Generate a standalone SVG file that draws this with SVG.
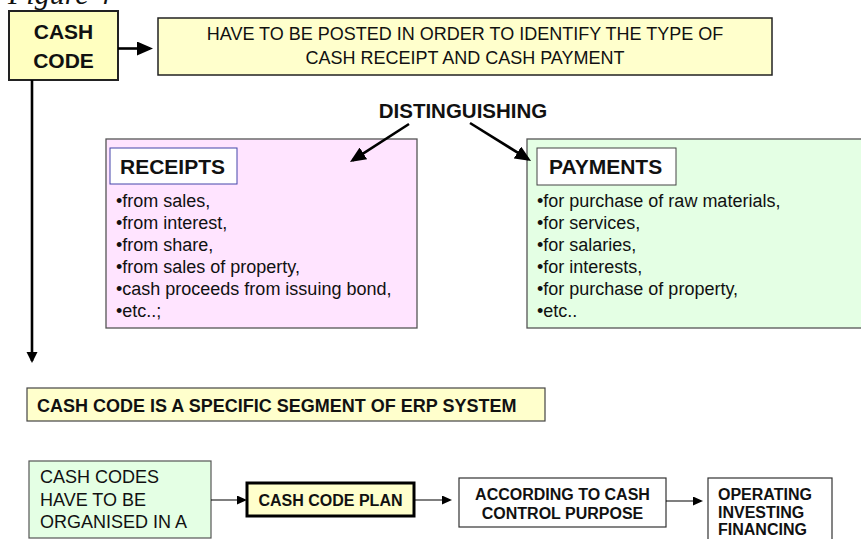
<svg xmlns="http://www.w3.org/2000/svg" width="861" height="539" viewBox="0 0 861 539">
  <style>
    text { font-family: "Liberation Sans", Arial, sans-serif; fill: #111; }
    .b { font-weight: bold; }
    .r18 { font-size: 18px; }
    .b16 { font-size: 16px; font-weight: bold; }
    .b18 { font-size: 18px; font-weight: bold; }
    .b21 { font-size: 21px; font-weight: bold; }
    .mid { text-anchor: middle; }
    .yellow { fill: #FFFFCC; stroke: #222; stroke-width: 1.5; }
    .thick { stroke: #000; stroke-width: 2.6; fill: none; }
    .thin { stroke: #000; stroke-width: 1.2; fill: none; }
    .title { font-family: "Liberation Serif", "Times New Roman", serif; font-style: italic; font-size: 30px; }
  </style>
  <defs>
    <marker id="headBig" markerUnits="userSpaceOnUse" markerWidth="18" markerHeight="14" refX="13" refY="7" orient="auto">
      <path d="M0,0 L16,7 L0,14 Z" fill="#000"/>
    </marker>
    <marker id="headMid" markerUnits="userSpaceOnUse" markerWidth="13" markerHeight="12" refX="9" refY="5.5" orient="auto">
      <path d="M0,0 L11,5.5 L0,11 Z" fill="#000"/>
    </marker>
    <marker id="headSmall" markerUnits="userSpaceOnUse" markerWidth="11" markerHeight="9" refX="8" refY="4.5" orient="auto">
      <path d="M0,0 L10,4.5 L0,9 Z" fill="#000"/>
    </marker>
  </defs>

  <rect width="861" height="539" fill="#FFFFFF"/>

  <text class="title" x="8" y="4">Figure 4</text>

  <g id="cash-code">
    <rect x="9" y="11" width="109" height="69" fill="#FFFFC0" stroke="#222" stroke-width="2"/>
    <text class="b21 mid" x="63.5" y="39">CASH</text>
    <text class="b21 mid" x="63.5" y="68">CODE</text>
  </g>

  <g id="posting-note">
    <rect class="yellow" x="158" y="18" width="614" height="57"/>
    <text class="r18 mid" x="465" y="40">HAVE TO BE POSTED IN ORDER TO IDENTIFY THE TYPE OF</text>
    <text class="r18 mid" x="465" y="64">CASH RECEIPT AND CASH PAYMENT</text>
  </g>

  <g id="distinguishing">
    <text class="b mid" x="463" y="118" font-size="20.5">DISTINGUISHING</text>
  </g>

  <g id="receipts">
    <rect x="106" y="139" width="311" height="189" fill="#FFE4FF" stroke="#555" stroke-width="1.3"/>
    <rect x="110" y="148" width="127" height="36" fill="#FFFFFF" stroke="#4444AA" stroke-width="1"/>
    <text class="b21" x="120" y="173.5">RECEIPTS</text>
    <text class="r18" x="116" y="207">•from sales,</text>
    <text class="r18" x="116" y="229">•from interest,</text>
    <text class="r18" x="116" y="251">•from share,</text>
    <text class="r18" x="116" y="273">•from sales of property,</text>
    <text class="r18" x="116" y="295">•cash proceeds from issuing bond,</text>
    <text class="r18" x="116" y="317">•etc..;</text>
  </g>

  <g id="payments">
    <rect x="527" y="139" width="340" height="189" fill="#E4FFE4" stroke="#555" stroke-width="1.3"/>
    <rect x="537" y="148" width="139" height="37" fill="#FFFFFF" stroke="#444" stroke-width="1"/>
    <text class="b21" x="549" y="174">PAYMENTS</text>
    <text class="r18" x="537" y="207">•for purchase of raw materials,</text>
    <text class="r18" x="537" y="229">•for services,</text>
    <text class="r18" x="537" y="251">•for salaries,</text>
    <text class="r18" x="537" y="273">•for interests,</text>
    <text class="r18" x="537" y="295">•for purchase of property,</text>
    <text class="r18" x="537" y="317">•etc..</text>
  </g>

  <g id="erp-segment">
    <rect x="27" y="388" width="518" height="33" fill="#FFFFCC" stroke="#444" stroke-width="1.2"/>
    <text class="b18" x="37" y="412">CASH CODE IS A SPECIFIC SEGMENT OF ERP SYSTEM</text>
  </g>

  <g id="organised">
    <rect x="29" y="461" width="182" height="77" fill="#E4FFE4" stroke="#555" stroke-width="1.2"/>
    <text class="r18" x="40" y="483">CASH CODES</text>
    <text class="r18" x="40" y="506">HAVE TO BE</text>
    <text class="r18" x="40" y="528">ORGANISED IN A</text>
  </g>

  <g id="code-plan">
    <rect x="247" y="483" width="167" height="33" fill="#FFFFCC" stroke="#000" stroke-width="3"/>
    <text class="b16 mid" x="330.5" y="506">CASH CODE PLAN</text>
  </g>

  <g id="control-purpose">
    <rect x="459" y="478" width="207" height="49" fill="#FFFFFF" stroke="#333" stroke-width="1.2"/>
    <text class="b16 mid" x="562.5" y="500">ACCORDING TO CASH</text>
    <text class="b16 mid" x="562.5" y="519">CONTROL PURPOSE</text>
  </g>

  <g id="activities">
    <rect x="708" y="478" width="124" height="70" fill="#FFFFFF" stroke="#333" stroke-width="1.2"/>
    <text class="b16" x="718" y="500">OPERATING</text>
    <text class="b16" x="718" y="517.5">INVESTING</text>
    <text class="b16" x="718" y="535">FINANCING</text>
  </g>

  <!-- connectors, drawn last so the heads sit on top of the boxes -->
  <g id="connectors">
    <line class="thick" x1="118" y1="48.5" x2="150" y2="48.5" marker-end="url(#headBig)"/>
    <line class="thick" x1="32" y1="80" x2="32" y2="361" stroke-width="2.4" marker-end="url(#headMid)"/>
    <line class="thick" x1="409" y1="124" x2="352.5" y2="160.4" marker-end="url(#headBig)"/>
    <line class="thick" x1="470" y1="123" x2="528.5" y2="159.4" marker-end="url(#headBig)"/>
    <line class="thin" x1="211" y1="500" x2="245" y2="500" marker-end="url(#headSmall)"/>
    <line class="thin" x1="414" y1="500" x2="450" y2="500" marker-end="url(#headSmall)"/>
    <line class="thin" x1="666" y1="501" x2="701" y2="501" marker-end="url(#headSmall)"/>
  </g>
</svg>
